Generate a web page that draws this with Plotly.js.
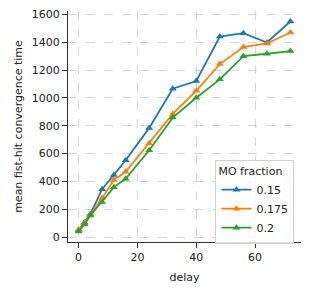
<!DOCTYPE html>
<html>
<head>
<meta charset="utf-8">
<script src="https://cdn.plot.ly/plotly-3.0.1.min.js"></script>
<style>html,body{margin:0;padding:0;background:#fff;}#chart{width:310px;height:293px;}</style>
</head>
<body>
<div id="chart"></div>
<script>
const delay = [0, 2, 4, 8, 12, 16, 24, 32, 40, 48, 56, 64, 72];
const seriesNames = ["0.15", "0.175", "0.2"];
const mo015 = [53, 105, 165, 344, 447, 552, 785, 1067, 1122, 1442, 1466, 1399, 1550];
const mo0175 = [50, 100, 158, 280, 411, 469, 675, 885, 1052, 1244, 1366, 1392, 1471];
const mo02 = [40, 90, 155, 253, 359, 419, 624, 859, 1002, 1134, 1301, 1318, 1337];
const colors = ["#1f77b4", "#ff7f0e", "#2ca02c"];
const yTicks = [0, 200, 400, 600, 800, 1000, 1200, 1400, 1600];
const xTicks = [0, 20, 40, 60];

const allY = [mo015, mo0175, mo02];
const traces = allY.map((ys, i) => ({
  x: delay, y: ys, name: seriesNames[i], type: "scatter", mode: "lines+markers",
  line: {color: colors[i], width: 1.8},
  marker: {symbol: "triangle-up", size: 7, color: colors[i]}
}));

const font = {family: "DejaVu Sans, sans-serif", size: 11, color: "#222"};
const layout = {
  width: 310, height: 293,
  margin: {l: 68, r: 9, t: 11, b: 51},
  paper_bgcolor: "#fff", plot_bgcolor: "#fff",
  font: font,
  showlegend: true,
  legend: {
    title: {text: "MO fraction", font: font},
    x: 0.972, xanchor: "right", y: -0.008, yanchor: "bottom",
    bgcolor: "rgba(255,255,255,0.8)", bordercolor: "#d0d0d0", borderwidth: 1,
    font: font, tracegroupgap: 2
  },
  xaxis: {
    range: [-3.6, 75.6], tickvals: xTicks, ticktext: xTicks.map(String),
    showline: true, linecolor: "#333", linewidth: 1, mirror: false,
    ticks: "outside", ticklen: 5, tickcolor: "#333", tickwidth: 1,
    showgrid: true, gridcolor: "#bbbbbb", griddash: "dash", gridwidth: 0.6,
    zeroline: false,
    title: {text: "delay", font: font, standoff: 10}
  },
  yaxis: {
    range: [-35.5, 1625.5], tickvals: yTicks, ticktext: yTicks.map(String),
    showline: true, linecolor: "#333", linewidth: 1, mirror: false,
    ticks: "outside", ticklen: 5, tickcolor: "#333", tickwidth: 1,
    showgrid: true, gridcolor: "#bbbbbb", griddash: "dash", gridwidth: 0.6,
    zeroline: false,
    title: {text: "mean fist-hit convergence time", font: font, standoff: 6}
  }
};
Plotly.newPlot("chart", traces, layout, {displayModeBar: false, staticPlot: true});
</script>
</body>
</html>
